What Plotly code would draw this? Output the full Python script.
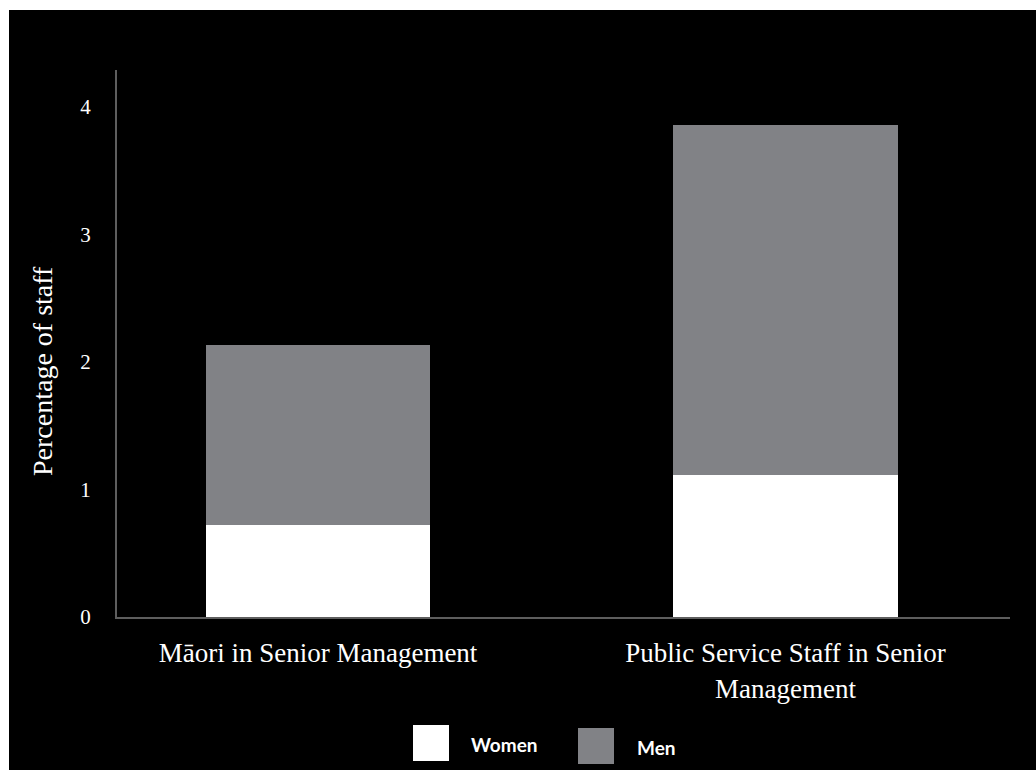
import plotly.graph_objects as go

categories = ["Māori in Senior Management", "Public Service Staff in Senior<br>Management"]
series_names = ["Women", "Men"]
women = [0.72, 1.11]
men = [1.41, 2.75]
series_colors = ["#ffffff", "#818286"]
y_ticks = [0, 1, 2, 3, 4]
y_tick_labels = ["0", "1", "2", "3", "4"]
y_title = "Percentage of staff"

W, H = 1036, 770
L, R, T, B = 117, 26, 70, 153
pw = W - L - R
ph = H - T - B


def px(x):
    return (x - L) / pw


def py(y):
    return (H - B - y) / ph


SERIF = "Liberation Serif, Times New Roman, serif"
SANS = "Lato, Open Sans, sans-serif"

fig = go.Figure()
for name, vals, col in zip(series_names, [women, men], series_colors):
    fig.add_bar(x=categories, y=vals, name=name, marker=dict(color=col, line=dict(width=0)),
                width=0.48)

fig.update_layout(
    barmode="stack",
    width=W, height=H,
    margin=dict(l=L, r=R, t=T, b=B),
    paper_bgcolor="#000000",
    plot_bgcolor="#000000",
    showlegend=False,
    xaxis=dict(
        type="category", range=[-0.43, 1.48],
        showline=True, linecolor="#5e5e5e", linewidth=2,
        showgrid=False, zeroline=False,
        ticks="outside", ticklen=11, tickcolor="rgba(0,0,0,0)",
        tickfont=dict(family=SERIF, size=27, color="#ffffff"),
    ),
    yaxis=dict(
        range=[0, 4.29],
        tickvals=y_ticks, ticktext=y_tick_labels,
        showline=True, linecolor="#5e5e5e", linewidth=2,
        showgrid=False, zeroline=False,
        ticks="outside", ticklen=20, tickcolor="rgba(0,0,0,0)",
        tickfont=dict(family=SERIF, size=21, color="#ffffff"),
    ),
)

# y-axis title
fig.add_annotation(text=y_title, xref="paper", yref="paper", x=px(42), y=py(371),
                   xanchor="center", yanchor="middle", textangle=-90, showarrow=False,
                   font=dict(family=SERIF, size=28, color="#ffffff"))

# white outer strips (top and left)
fig.add_shape(type="rect", xref="paper", yref="paper", x0=px(0), x1=px(W), y0=py(10), y1=py(0),
              fillcolor="#ffffff", line=dict(width=0), layer="above")
fig.add_shape(type="rect", xref="paper", yref="paper", x0=px(0), x1=px(9), y0=py(H), y1=py(0),
              fillcolor="#ffffff", line=dict(width=0), layer="above")

# custom legend with large squares
legend_boxes = [(413, 725), (578, 728)]
legend_text_x = [469, 635]
for name, col, (bx, by), tx in zip(series_names, series_colors, legend_boxes, legend_text_x):
    fig.add_shape(type="rect", xref="paper", yref="paper", x0=px(bx), x1=px(bx + 36),
                  y0=py(by + 36), y1=py(by), fillcolor=col, line=dict(width=0))
    fig.add_annotation(text="<b>" + name + "</b>", xref="paper", yref="paper",
                       x=px(tx), y=py(by + 19), xanchor="left", yanchor="middle",
                       showarrow=False, font=dict(family=SANS, size=19, color="#ffffff"))

fig.write_html("out.html")
